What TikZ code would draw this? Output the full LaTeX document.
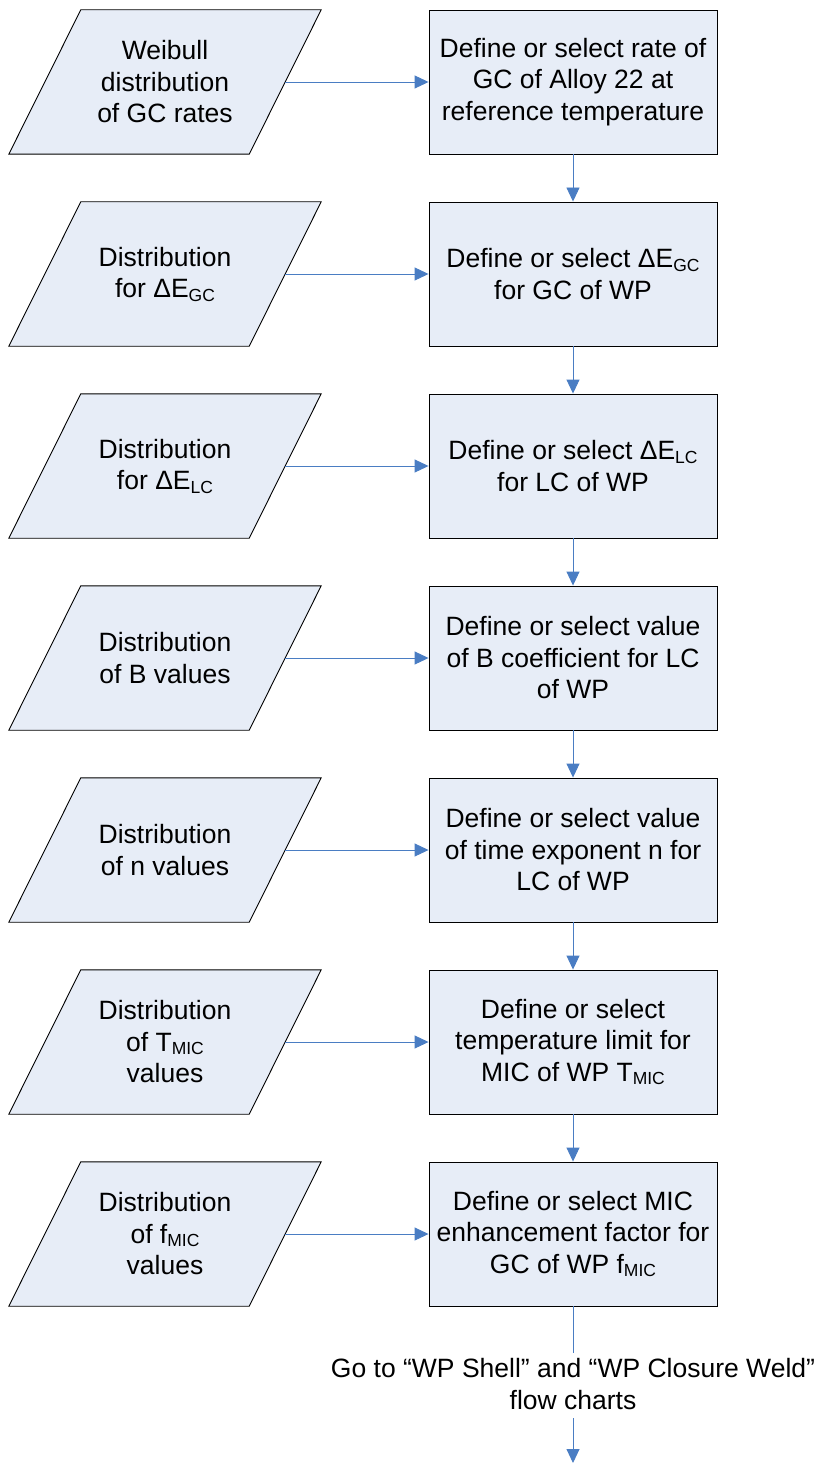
\documentclass[tikz,border=0pt]{standalone}
\usepackage{fontspec}
\setmainfont{Liberation Sans}
\usetikzlibrary{arrows.meta,backgrounds}

\definecolor{boxfill}{HTML}{E7EDF7}
\definecolor{flowblue}{HTML}{4A7DC3}

\newcommand{\lowsub}[1]{\raisebox{-0.25ex}{\fontsize{17.5}{17.5}\selectfont #1}}

\tikzset{
  inbox/.style={rectangle, minimum width=240pt, minimum height=144pt,
    align=center, inner sep=0pt},
  slantbox/.style={draw, line width=0.9pt, fill=boxfill},
  stepbox/.style={rectangle, draw, line width=0.9pt, fill=boxfill,
    minimum width=288pt, minimum height=144pt, align=center, inner sep=0pt},
  flow/.style={draw=flowblue, line width=0.9pt, -{Triangle[length=14pt,width=13pt]}}
}

\begin{document}
\begin{tikzpicture}[x=1pt,y=-1pt,font=\fontsize{26.5}{31.5}\selectfont]
  \useasboundingbox (0,0) rectangle (817,1463);

  % inputs on the left
  \node[inbox] (in1) at (165,82)   {Weibull\\distribution\\of GC rates};
  \node[inbox] (in2) at (165,274)  {Distribution\\for ΔE\lowsub{GC}};
  \node[inbox] (in3) at (165,466)  {Distribution\\for ΔE\lowsub{LC}};
  \node[inbox] (in4) at (165,658)  {Distribution\\of B values};
  \node[inbox] (in5) at (165,850)  {Distribution\\of n values};
  \node[inbox] (in6) at (165,1042) {Distribution\\of T\lowsub{MIC}\\values};
  \node[inbox] (in7) at (165,1234) {Distribution\\of f\lowsub{MIC}\\values};

  \begin{scope}[on background layer]
    \foreach \i in {1,...,7} {
      \draw[slantbox] ([xshift=-36pt]in\i.south west) -- ([xshift=-36pt]in\i.south east)
        -- ([xshift=36pt]in\i.north east) -- ([xshift=36pt]in\i.north west) -- cycle;
    }
  \end{scope}

  % steps on the right
  \node[stepbox] (def1) at (573,82)   {Define or select rate of\\GC of Alloy 22 at\\reference temperature};
  \node[stepbox] (def2) at (573,274)  {Define or select ΔE\lowsub{GC}\\for GC of WP};
  \node[stepbox] (def3) at (573,466)  {Define or select ΔE\lowsub{LC}\\for LC of WP};
  \node[stepbox] (def4) at (573,658)  {Define or select value\\of B coefficient for LC\\of WP};
  \node[stepbox] (def5) at (573,850)  {Define or select value\\of time exponent n for\\LC of WP};
  \node[stepbox] (def6) at (573,1042) {Define or select\\temperature limit for\\MIC of WP T\lowsub{MIC}};
  \node[stepbox] (def7) at (573,1234) {Define or select MIC\\enhancement factor for\\GC of WP f\lowsub{MIC}};

  \foreach \i in {1,...,7} {
    \draw[flow] (in\i.east) -- (def\i.west);
  }
  \foreach \i [evaluate=\i as \j using int(\i+1)] in {1,...,6} {
    \draw[flow] (def\i.south) -- (def\j.north);
  }

  % exit to the other charts
  \coordinate (gap) at (573,1353);
  \node[align=center, inner sep=0pt] (goto) at (573,1384) {Go to “WP Shell” and “WP Closure Weld”\\flow charts};
  \coordinate (out) at (573,1463);
  \draw[draw=flowblue, line width=0.9pt] (def7.south) -- (gap);
  \draw[flow] (573,1418) -- (out);
\end{tikzpicture}
\end{document}
